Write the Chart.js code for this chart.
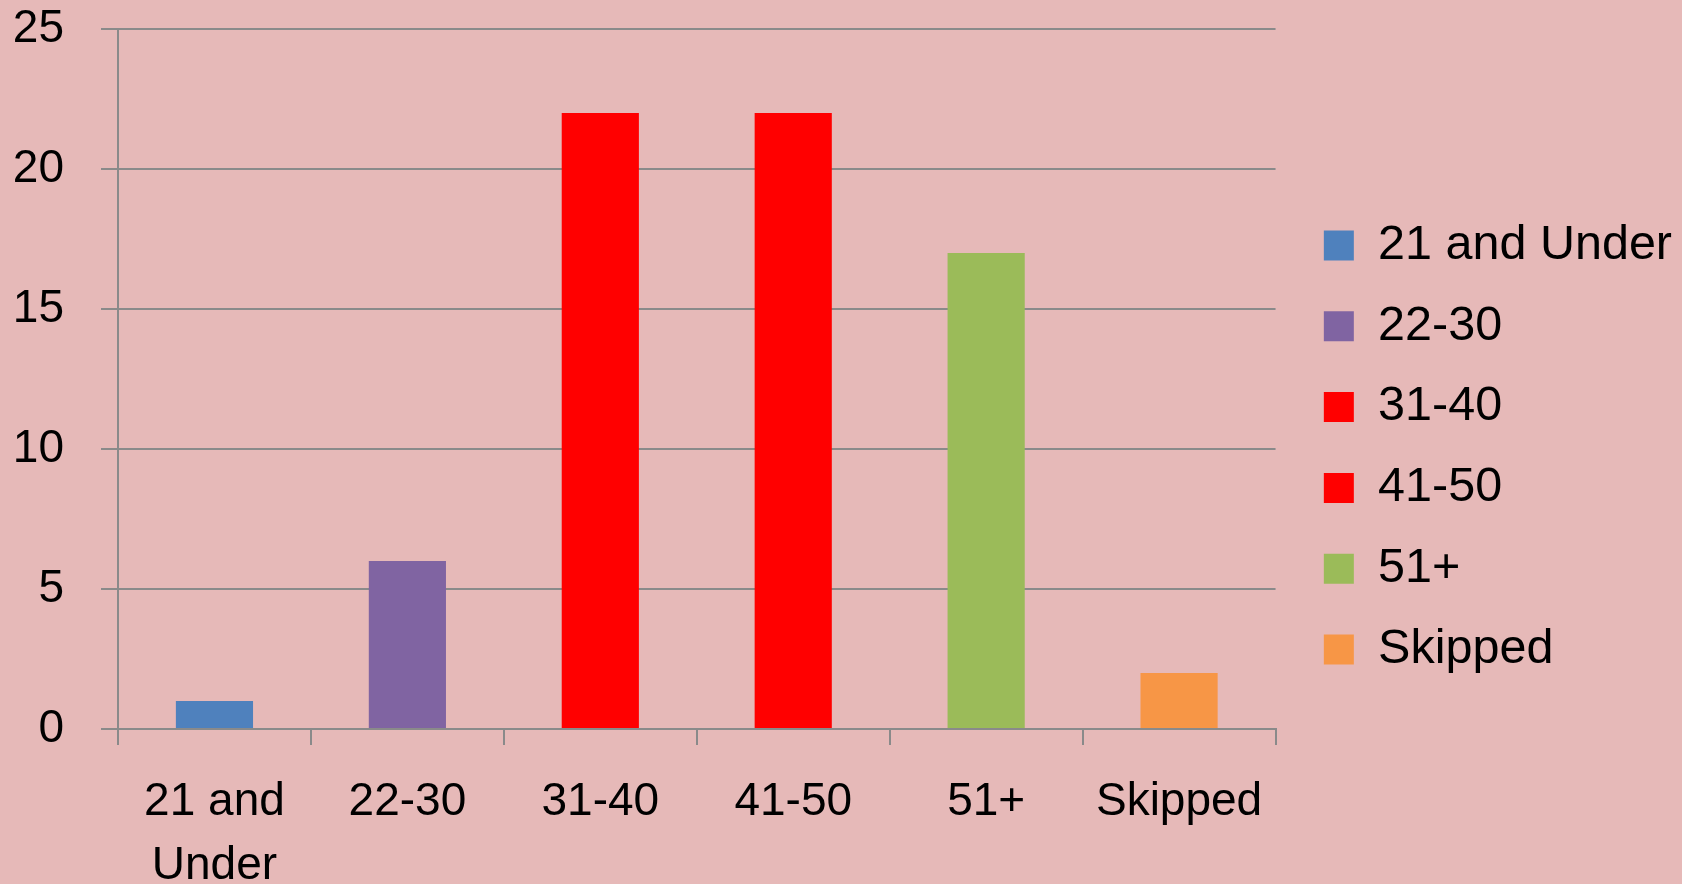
<!DOCTYPE html>
<html>
<head>
<meta charset="utf-8">
<title>Age Groups</title>
<script src="https://cdn.jsdelivr.net/npm/chart.js@4"></script>
<style>
    html, body {
        margin: 0;
        padding: 0;
        background: #E6B9B8;
    }
    .chart-box {
        position: relative;
        width: 1682px;
        height: 884px;
        background: #E6B9B8;
    }
</style>
</head>
<body>
<div class="chart-box">
    <canvas id="ageChart"></canvas>
</div>
<script>
// 数据
const categories = ['21 and Under', '22-30', '31-40', '41-50', '51+', 'Skipped'];
const axisLabels = [['21 and', 'Under'], '22-30', '31-40', '41-50', '51+', 'Skipped'];
const counts = [1, 6, 22, 22, 17, 2];
const barColors = ['#4F81BD', '#8064A2', '#FF0000', '#FF0000', '#9BBB59', '#F79646'];
const yTicks = [0, 5, 10, 15, 20, 25];

const FONT = 'Liberation Sans, Arial, sans-serif';
const GRID = '#8A8A8A';
const LEGEND_SHIFT = 16;

document.addEventListener('DOMContentLoaded', function() {
    initializeAgeChart();
});

// 图例与绘图区之间多留一点空隙
const legendShiftPlugin = {
    id: 'legendShift',
    afterLayout: function(chart) {
        if (!chart.legend) return;
        chart.legend.left += LEGEND_SHIFT;
        chart.legend.right += LEGEND_SHIFT;
    }
};

function initializeAgeChart() {
    const ctx = document.getElementById('ageChart');

    const data = {
        labels: axisLabels,
        datasets: [{
            label: 'Count',
            data: counts,
            backgroundColor: barColors,
            borderWidth: 0,
            barPercentage: 0.4,
            categoryPercentage: 1.0
        }]
    };

    const config = {
        type: 'bar',
        data: data,
        plugins: [legendShiftPlugin],
        options: {
            responsive: true,
            maintainAspectRatio: false,
            animation: false,
            layout: {
                padding: { top: 11, right: LEGEND_SHIFT, bottom: 0, left: 0 }
            },
            plugins: {
                tooltip: { enabled: false },
                legend: {
                    position: 'right',
                    labels: {
                        boxWidth: 30,
                        boxHeight: 30,
                        padding: 32.3,
                        color: '#000000',
                        font: { family: FONT, size: 48.5 },
                        // 每个类别一个图例项
                        generateLabels: function() {
                            return categories.map((name, i) => ({
                                text: name,
                                fillStyle: barColors[i],
                                strokeStyle: barColors[i],
                                lineWidth: 0,
                                hidden: false,
                                index: i
                            }));
                        }
                    }
                }
            },
            scales: {
                x: {
                    afterFit: function(scale) { scale.height = 155; },
                    border: { color: GRID, width: 2 },
                    grid: {
                        offset: true,
                        drawOnChartArea: false,
                        drawTicks: true,
                        tickLength: 16,
                        color: GRID,
                        lineWidth: 2
                    },
                    ticks: {
                        color: '#000000',
                        padding: 25,
                        maxRotation: 0,
                        autoSkip: false,
                        font: { family: FONT, size: 46, lineHeight: 1.39 }
                    }
                },
                y: {
                    min: 0,
                    max: 25,
                    // 固定坐标轴宽度和上下留白
                    afterFit: function(scale) {
                        scale.width = 118;
                        scale.paddingTop = 29;
                        scale.paddingBottom = 0;
                    },
                    afterBuildTicks: function(scale) {
                        scale.ticks = yTicks.map(v => ({ value: v }));
                    },
                    border: { color: GRID, width: 2 },
                    grid: {
                        color: GRID,
                        lineWidth: 2,
                        tickLength: 17
                    },
                    ticks: {
                        color: '#000000',
                        padding: 37,
                        font: { family: FONT, size: 46, lineHeight: 1.26 }
                    }
                }
            }
        }
    };

    new Chart(ctx, config);
}
</script>
</body>
</html>
